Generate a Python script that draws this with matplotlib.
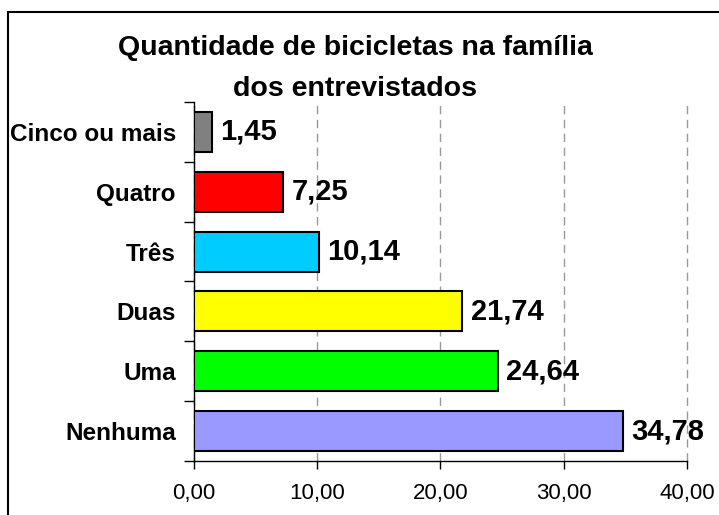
import matplotlib.pyplot as plt
from matplotlib.patches import Rectangle

categorias = ['Nenhuma', 'Uma', 'Duas', 'Três', 'Quatro', 'Cinco ou mais']
valores = [34.78, 24.64, 21.74, 10.14, 7.25, 1.45]
cores = ['#9999FF', '#00FF00', '#FFFF00', '#00CCFF', '#FF0000', '#808080']
ticks_x = [0, 10, 20, 30, 40]

plt.rcParams['font.family'] = ['Liberation Sans', 'DejaVu Sans']

fig = plt.figure(figsize=(7.19, 5.15), dpi=100)
ax = fig.add_axes([0.2698, 0.1049, 0.6857, 0.6971])

# border round the chart area (cut off at right and bottom in the original)
fig.patches.append(Rectangle((8/719, -0.1), 1.2, 1 - 12/515 + 0.1,
                             transform=fig.transFigure, fill=False,
                             edgecolor='black', linewidth=1.5))

y = range(len(categorias))
ax.barh(y, valores, height=0.67, color=cores, edgecolor='black', linewidth=1.5, zorder=3)

for i, v in enumerate(valores):
    ax.text(v + 0.7, i, f'{v:.2f}'.replace('.', ','), va='center', ha='left',
            fontsize=21, fontweight='bold', zorder=4)

ax.set_xlim(0, 40)
ax.set_ylim(-0.5, len(categorias) - 0.5)
ax.set_xticks(ticks_x)
ax.set_xticklabels([f'{t:.2f}'.replace('.', ',') for t in ticks_x], fontsize=16)
ax.set_yticks(list(y))
ax.set_yticklabels(categorias, fontsize=17.5, fontweight='bold')
ax.set_yticks([i - 0.5 for i in range(len(categorias) + 1)], minor=True)
ax.tick_params(axis='y', which='major', length=0, pad=13)
ax.tick_params(axis='y', which='minor', length=7, width=1, direction='out')
ax.tick_params(axis='x', which='major', length=6, width=1, direction='out', pad=10)

ax.grid(axis='x', linestyle=(0, (6, 4)), color='#999999', linewidth=1, zorder=0)
for gl in ax.get_xgridlines():
    gl.set_clip_on(False)
for s in ['top', 'right']:
    ax.spines[s].set_visible(False)
ax.spines['left'].set_linewidth(1)
ax.spines['bottom'].set_linewidth(1)

fig.text(0.494, 0.933, 'Quantidade de bicicletas na família\ndos entrevistados',
         ha='center', va='top', fontsize=20.5, fontweight='bold', linespacing=1.75)

fig.savefig('out.png', dpi=100)
